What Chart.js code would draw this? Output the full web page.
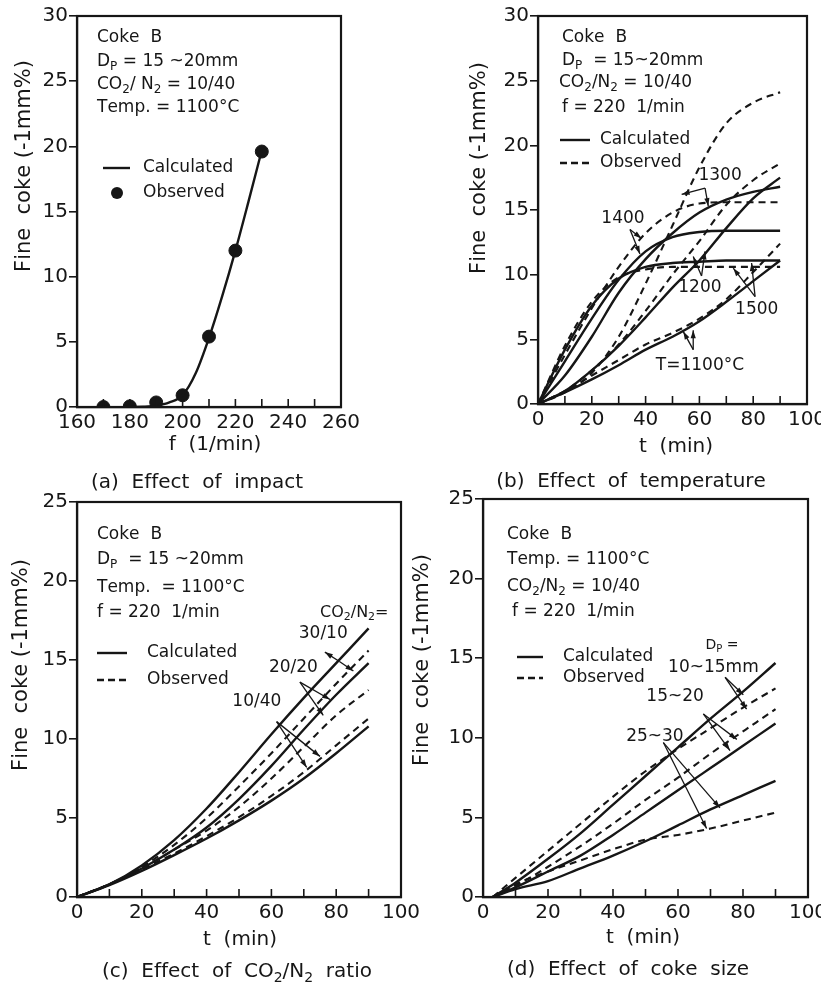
<!DOCTYPE html>
<html>
<head>
<meta charset="utf-8">
<title>Fine coke generation</title>
<script src="https://cdn.jsdelivr.net/npm/chart.js@4.4.1/dist/chart.umd.min.js"></script>
<style>
  html, body { margin: 0; padding: 0; background: #fff; overflow: hidden; }
  #wrap { position: relative; width: 821px; height: 986px; overflow: hidden; }
  canvas { position: absolute; left: 0; top: 0; }
</style>
</head>
<body>
<div id="wrap">
  <canvas id="chart-a" width="860" height="986"></canvas>
  <canvas id="chart-b" width="860" height="986"></canvas>
  <canvas id="chart-c" width="860" height="986"></canvas>
  <canvas id="chart-d" width="860" height="986"></canvas>
</div>
<script>
// --- (a) effect of impact ---
const impactFreq = [170, 180, 190, 200, 210, 220, 230];
const impactObserved = [0, 0.05, 0.35, 0.9, 5.4, 12.0, 19.6];
const impactCalcFreq = [180, 185, 190, 195, 200, 205, 210, 215, 220, 225, 230];
const impactCalc = [0, 0.02, 0.1, 0.35, 0.9, 2.6, 5.3, 8.5, 12.0, 15.8, 19.7];

// --- (b) effect of temperature ---
const tempTime = [0, 10, 20, 30, 40, 50, 60, 70, 80, 90];
const calc1100 = [0, 0.9, 1.9, 3.0, 4.2, 5.2, 6.4, 7.9, 9.5, 11.1];
const obs1100 = [0, 1.0, 2.2, 3.4, 4.6, 5.5, 6.6, 8.1, 10.2, 12.4];
const calc1200 = [0, 1.0, 2.6, 4.5, 6.7, 9.0, 11.1, 13.6, 15.9, 17.5];
const obs1200 = [0, 1.0, 2.6, 4.6, 7.2, 10.0, 12.6, 15.4, 17.3, 18.6];
const calc1300 = [0, 2.2, 5.2, 8.6, 11.2, 13.2, 14.8, 15.8, 16.4, 16.8];
const obs1300 = [0, 0.9, 2.4, 5.2, 9.3, 13.8, 18.3, 21.7, 23.3, 24.1];
const calc1400 = [0, 3.3, 6.6, 9.6, 11.8, 12.9, 13.3, 13.4, 13.4, 13.4];
const obs1400 = [0, 3.8, 7.4, 10.6, 13.2, 14.8, 15.5, 15.6, 15.6, 15.6];
const calc1500 = [0, 4.2, 7.6, 9.7, 10.6, 10.9, 11.0, 11.1, 11.1, 11.1];
const obs1500 = [0, 4.5, 7.9, 9.8, 10.4, 10.6, 10.6, 10.6, 10.6, 10.6];

// --- (c) effect of CO2/N2 ratio ---
const ratioTime = [0, 10, 20, 30, 40, 50, 60, 70, 80, 90];
const calc3010 = [0, 0.8, 2.0, 3.6, 5.6, 7.9, 10.3, 12.6, 14.8, 17.0];
const obs3010 = [0, 0.8, 1.9, 3.3, 5.0, 7.0, 9.1, 11.3, 13.5, 15.6];
const calc2020 = [0, 0.8, 1.8, 3.0, 4.4, 6.2, 8.3, 10.6, 12.8, 14.8];
const obs2020 = [0, 0.8, 1.8, 3.0, 4.2, 5.7, 7.5, 9.5, 11.5, 13.1];
const calc1040 = [0, 0.75, 1.65, 2.65, 3.7, 4.85, 6.1, 7.5, 9.1, 10.8];
const obs1040 = [0, 0.8, 1.75, 2.75, 3.85, 5.05, 6.4, 7.9, 9.6, 11.3];

// --- (d) effect of coke size ---
const sizeTime = [3, 10, 20, 30, 40, 50, 60, 70, 80, 90];
const calc1015 = [0, 0.9, 2.4, 4.0, 5.8, 7.6, 9.4, 11.2, 12.9, 14.7];
const obs1015 = [0, 1.2, 2.9, 4.6, 6.3, 7.9, 9.3, 10.6, 11.9, 13.1];
const calc1520 = [0, 0.6, 1.6, 2.6, 3.9, 5.3, 6.7, 8.1, 9.5, 10.9];
const obs1520 = [0, 0.7, 1.9, 3.2, 4.6, 6.1, 7.5, 9.0, 10.4, 11.8];
const calc2530 = [0, 0.5, 1.0, 1.8, 2.6, 3.5, 4.5, 5.5, 6.4, 7.3];
const obs2530 = [0, 0.8, 1.6, 2.3, 3.0, 3.6, 3.9, 4.3, 4.8, 5.3];

const FONT = '"DejaVu Sans", sans-serif';
const INK = '#161616';
const CW = 860, CH = 986, Y_W = 60, X_H = 30;

const pts = (xs, ys) => xs.map((x, i) => ({ x, y: ys[i] }));

const solid = (label, xs, ys) => ({
    label, data: pts(xs, ys), borderColor: INK, borderWidth: 2.4,
    pointRadius: 0, fill: false, cubicInterpolationMode: 'monotone'
});
const dashed = (label, xs, ys) => ({ ...solid(label, xs, ys), borderWidth: 2.1, borderDash: [7, 5] });

// text with '_' marking a one-character subscript
const richText = (ctx, str, x, y, size, align = 'left') => {
    const parts = [];
    for (let i = 0; i < str.length; i++) {
        if (str[i] === '_' && i + 1 < str.length) { parts.push({ c: str[i + 1], sub: true }); i++; }
        else parts.push({ c: str[i], sub: false });
    }
    const subSize = Math.round(size * 0.68);
    let w = 0;
    parts.forEach(p => {
        ctx.font = `${p.sub ? subSize : size}px ${FONT}`;
        p.w = ctx.measureText(p.c).width;
        w += p.w;
    });
    let cx = align === 'center' ? x - w / 2 : align === 'right' ? x - w : x;
    ctx.textAlign = 'left';
    ctx.textBaseline = 'middle';
    ctx.fillStyle = INK;
    parts.forEach(p => {
        ctx.font = `${p.sub ? subSize : size}px ${FONT}`;
        ctx.fillText(p.c, cx, p.sub ? y + size * 0.3 : y);
        cx += p.w;
    });
};

const arrow = (ctx, x0, y0, x1, y1) => {
    ctx.beginPath(); ctx.moveTo(x0, y0); ctx.lineTo(x1, y1); ctx.stroke();
    const a = Math.atan2(y1 - y0, x1 - x0), L = 8, W = 2.6;
    ctx.beginPath();
    ctx.moveTo(x1, y1);
    ctx.lineTo(x1 - L * Math.cos(a) + W * Math.sin(a), y1 - L * Math.sin(a) - W * Math.cos(a));
    ctx.lineTo(x1 - L * Math.cos(a) - W * Math.sin(a), y1 - L * Math.sin(a) + W * Math.cos(a));
    ctx.closePath(); ctx.fill();
};

// frame, inner x ticks, titles, boxes, callouts
const decorate = (chart, spec) => {
    const { ctx, chartArea: ca, scales: { x, y } } = chart;
    const px = (vx, vy) => [x.getPixelForValue(vx), y.getPixelForValue(vy)];
    ctx.save();
    ctx.strokeStyle = INK; ctx.fillStyle = INK;
    ctx.lineWidth = 2.2;
    ctx.strokeRect(ca.left, ca.top, ca.right - ca.left, ca.bottom - ca.top);

    ctx.lineWidth = 1.6;
    for (let v = x.min + 10; v < x.max; v += 10) {
        const p = x.getPixelForValue(v);
        ctx.beginPath(); ctx.moveTo(p, ca.bottom); ctx.lineTo(p, ca.bottom - 8); ctx.stroke();
    }

    ctx.save();
    ctx.translate(spec.yTitle[0], spec.yTitle[1]);
    ctx.rotate(-Math.PI / 2);
    richText(ctx, 'Fine  coke (-1mm%)', 0, 0, 21, 'center');
    ctx.restore();
    richText(ctx, spec.xTitle[2], spec.xTitle[0], spec.xTitle[1], 20, 'center');
    richText(ctx, spec.caption[2], spec.caption[0], spec.caption[1], 20, 'center');

    spec.box.forEach(([bx, by, t]) => richText(ctx, t, bx, by, 17));

    spec.legend.forEach(item => {
        ctx.lineWidth = 2.4;
        if (item.kind === 'dot') {
            ctx.beginPath(); ctx.arc(item.x0 + 14, item.y, 6, 0, Math.PI * 2); ctx.fill();
        } else {
            ctx.setLineDash(item.kind === 'dash' ? [7, 4] : []);
            ctx.beginPath(); ctx.moveTo(item.x0, item.y); ctx.lineTo(item.x1, item.y); ctx.stroke();
            ctx.setLineDash([]);
        }
        richText(ctx, item.text, item.tx, item.y, 17);
    });

    ctx.lineWidth = 1.3;
    spec.notes.forEach(n => {
        if (n.label) {
            const [lx, ly] = px(n.at[0], n.at[1]);
            richText(ctx, n.label, lx, ly, n.size || 17, n.align || 'center');
        }
        if (n.from) {
            const [fx, fy] = px(n.from[0], n.from[1]);
            n.tips.forEach(t => { const [tx, ty] = px(t[0], t[1]); arrow(ctx, fx, fy, tx, ty); });
        }
    });
    ctx.restore();
};

const makeChart = (id, area, xRange, yMax, datasets, spec) => {
    const [left, top, right, bottom] = area;
    return new Chart(document.getElementById(id), {
        type: 'line',
        data: { datasets },
        options: {
            responsive: false, animation: false, events: [],
            layout: { padding: { left: left - Y_W, top, right: CW - right, bottom: CH - bottom - X_H } },
            plugins: { legend: { display: false }, tooltip: { enabled: false } },
            scales: {
                x: {
                    type: 'linear', min: xRange[0], max: xRange[1],
                    afterFit: s => { s.height = X_H; },
                    grid: { display: false, drawTicks: false },
                    border: { display: true, color: INK, width: 2.2 },
                    ticks: {
                        stepSize: 10, autoSkip: false, maxRotation: 0, padding: 4, color: INK,
                        font: { family: FONT, size: 20 },
                        callback: v => (v % 20 === 0 ? v : '')
                    }
                },
                y: {
                    min: 0, max: yMax,
                    afterFit: s => { s.width = Y_W; },
                    grid: { drawOnChartArea: false, drawTicks: true, tickLength: 8, color: INK, lineWidth: 1.6 },
                    border: { display: true, color: INK, width: 2.2 },
                    ticks: { stepSize: 5, padding: 1, color: INK, font: { family: FONT, size: 20 } }
                }
            }
        },
        plugins: [{ id: 'decor', afterDraw: chart => decorate(chart, spec) }]
    });
};

// (a)
makeChart('chart-a', [77, 16, 341, 407], [160, 260], 30, [
    solid('Calculated', impactCalcFreq, impactCalc),
    { label: 'Observed', data: pts(impactFreq, impactObserved), showLine: false,
      pointRadius: 6.5, pointBackgroundColor: INK, pointBorderColor: INK }
], {
    yTitle: [25, 166], xTitle: [215, 445, 'f  (1/min)'], caption: [197, 483, '(a)  Effect  of  impact'],
    box: [[97, 38, 'Coke  B'], [97, 62, 'D_P = 15 ~20mm'], [97, 85, 'CO_2/ N_2 = 10/40'], [97, 108, 'Temp. = 1100°C']],
    legend: [
        { kind: 'line', x0: 103, x1: 130, y: 168, tx: 143, text: 'Calculated' },
        { kind: 'dot', x0: 103, y: 193, tx: 143, text: 'Observed' }
    ],
    notes: []
});

// (b)
makeChart('chart-b', [538, 16, 807, 404], [0, 100], 30, [
    solid('1100 calc', tempTime, calc1100), dashed('1100 obs', tempTime, obs1100),
    solid('1200 calc', tempTime, calc1200), dashed('1200 obs', tempTime, obs1200),
    solid('1300 calc', tempTime, calc1300), dashed('1300 obs', tempTime, obs1300),
    solid('1400 calc', tempTime, calc1400), dashed('1400 obs', tempTime, obs1400),
    solid('1500 calc', tempTime, calc1500), dashed('1500 obs', tempTime, obs1500)
], {
    yTitle: [480, 168], xTitle: [676, 447, 't  (min)'], caption: [631, 482, '(b)  Effect  of  temperature'],
    box: [[562, 38, 'Coke  B'], [562, 61, 'D_P  = 15~20mm'], [559, 83, 'CO_2/N_2 = 10/40'], [562, 108, 'f = 220  1/min']],
    legend: [
        { kind: 'line', x0: 560, x1: 590, y: 140, tx: 600, text: 'Calculated' },
        { kind: 'dash', x0: 560, x1: 590, y: 163, tx: 600, text: 'Observed' }
    ],
    notes: [
        { label: '1300', at: [67.7, 17.7], from: [62.1, 16.7], tips: [[53.4, 16.2], [63.3, 15.3]] },
        { label: '1400', at: [31.6, 14.3], from: [34.2, 13.5], tips: [[38.5, 12.8], [37.9, 11.6]] },
        { label: '1200', at: [60.2, 9.0], from: [60.8, 9.9], tips: [[57.7, 11.4], [62.1, 11.8]] },
        { label: '1500', at: [81.3, 7.3], from: [80.7, 8.3], tips: [[72.6, 10.5], [79.4, 10.9]] },
        { label: 'T=1100°C', at: [60.2, 3.0], from: [57.7, 4.2], tips: [[54.0, 5.6], [57.7, 5.7]] }
    ]
});

// (c)
makeChart('chart-c', [77, 502, 401, 897], [0, 100], 25, [
    solid('30/10 calc', ratioTime, calc3010), dashed('30/10 obs', ratioTime, obs3010),
    solid('20/20 calc', ratioTime, calc2020), dashed('20/20 obs', ratioTime, obs2020),
    solid('10/40 calc', ratioTime, calc1040), dashed('10/40 obs', ratioTime, obs1040)
], {
    yTitle: [22, 665], xTitle: [240, 940, 't  (min)'], caption: [237, 972, '(c)  Effect  of  CO_2/N_2  ratio'],
    box: [[97, 535, 'Coke  B'], [97, 560, 'D_P  = 15 ~20mm'], [97, 588, 'Temp.  = 1100°C'], [97, 613, 'f = 220  1/min']],
    legend: [
        { kind: 'line', x0: 97, x1: 127, y: 653, tx: 147, text: 'Calculated' },
        { kind: 'dash', x0: 97, x1: 127, y: 680, tx: 147, text: 'Observed' }
    ],
    notes: [
        { label: 'CO_2/N_2=', at: [75, 18.0], align: 'left', size: 16 },
        { label: '30/10', at: [76, 16.7], from: [81, 14.9], tips: [[76.5, 15.5], [85.3, 14.3]] },
        { label: '20/20', at: [66.8, 14.5], from: [68.8, 13.6], tips: [[78.1, 12.5], [76, 11.5]] },
        { label: '10/40', at: [55.5, 12.4], from: [61.6, 11.1], tips: [[75, 8.9], [70.9, 8.2]] }
    ]
});

// (d)
makeChart('chart-d', [483, 499, 808, 897], [0, 100], 25, [
    solid('10~15 calc', sizeTime, calc1015), dashed('10~15 obs', sizeTime, obs1015),
    solid('15~20 calc', sizeTime, calc1520), dashed('15~20 obs', sizeTime, obs1520),
    solid('25~30 calc', sizeTime, calc2530), dashed('25~30 obs', sizeTime, obs2530)
], {
    yTitle: [423, 660], xTitle: [643, 938, 't  (min)'], caption: [628, 970, '(d)  Effect  of  coke  size'],
    box: [[507, 535, 'Coke  B'], [507, 560, 'Temp. = 1100°C'], [507, 587, 'CO_2/N_2 = 10/40'], [512, 612, 'f = 220  1/min']],
    legend: [
        { kind: 'line', x0: 517, x1: 543, y: 657, tx: 563, text: 'Calculated' },
        { kind: 'dash', x0: 517, x1: 543, y: 678, tx: 563, text: 'Observed' }
    ],
    notes: [
        { label: 'D_P =', at: [73.5, 15.8], size: 14 },
        { label: '10~15mm', at: [70.9, 14.4], from: [74.5, 13.8], tips: [[80.1, 12.7], [81.1, 11.8]] },
        { label: '15~20', at: [59.1, 12.6], from: [67.8, 11.5], tips: [[76, 9.2], [78.1, 9.9]] },
        { label: '25~30', at: [52.9, 10.1], from: [55.5, 9.7], tips: [[72.9, 5.6], [68.8, 4.3]] }
    ]
});
</script>
</body>
</html>
